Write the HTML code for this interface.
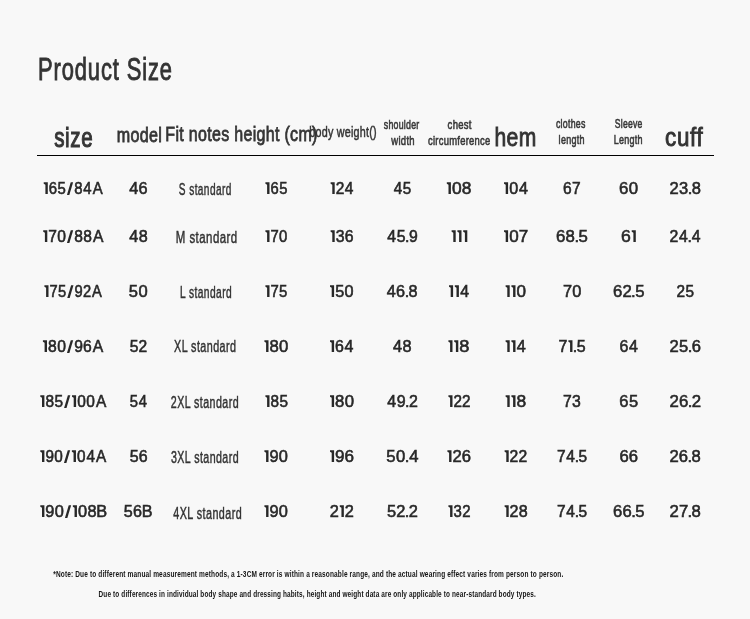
<!DOCTYPE html>
<html><head><meta charset="utf-8"><style>
html,body{margin:0;padding:0;background:#f8f8f8;width:750px;height:619px;overflow:hidden}
svg{display:block;font-family:"Liberation Sans",sans-serif;will-change:transform}
</style></head><body>
<svg width="750" height="619" viewBox="0 0 750 619">
<rect x="37" y="155" width="677" height="1" fill="#000"/>
<text transform="translate(38.05,79.80) scale(0.7035,1)" font-size="31.16" fill="#333" stroke="#333" stroke-width="0.9" letter-spacing="1.246">Product Size</text>
<text transform="translate(54.18,146.80) scale(0.7463,1)" font-size="27.55" fill="#353535" stroke="#353535" stroke-width="1.1" letter-spacing="0.826">size</text>
<text transform="translate(116.75,141.80) scale(0.8223,1)" font-size="19.59" fill="#353535" stroke="#353535" stroke-width="0.8" letter-spacing="0.392">model</text>
<text transform="translate(165.32,140.60) scale(0.7714,1)" font-size="20.72" fill="#353535" stroke="#353535" stroke-width="0.8" letter-spacing="0.414">Fit notes height (cm)</text>
<text transform="translate(309.30,136.90) scale(0.7597,1)" font-size="14.21" fill="#353535" stroke="#353535" stroke-width="0.5" letter-spacing="0.284">body weight()</text>
<text transform="translate(383.74,129.30) scale(0.6929,1)" font-size="12.70" fill="#383838" stroke="#383838" stroke-width="0.6" letter-spacing="0.381">shoulder</text>
<text transform="translate(391.30,144.50) scale(0.7479,1)" font-size="12.70" fill="#383838" stroke="#383838" stroke-width="0.6" letter-spacing="0.381">width</text>
<text transform="translate(447.62,129.30) scale(0.7490,1)" font-size="12.70" fill="#383838" stroke="#383838" stroke-width="0.6" letter-spacing="0.381">chest</text>
<text transform="translate(427.92,145.10) scale(0.7412,1)" font-size="12.70" fill="#383838" stroke="#383838" stroke-width="0.6" letter-spacing="0.381">circumference</text>
<text transform="translate(494.42,145.50) scale(0.8306,1)" font-size="25.38" fill="#333" stroke="#333" stroke-width="0.9" letter-spacing="0.508">hem</text>
<text transform="translate(555.95,127.90) scale(0.6924,1)" font-size="12.70" fill="#383838" stroke="#383838" stroke-width="0.6" letter-spacing="0.381">clothes</text>
<text transform="translate(558.62,143.60) scale(0.7085,1)" font-size="12.70" fill="#383838" stroke="#383838" stroke-width="0.6" letter-spacing="0.381">length</text>
<text transform="translate(614.71,127.90) scale(0.6800,1)" font-size="12.70" fill="#383838" stroke="#383838" stroke-width="0.6" letter-spacing="0.381">Sleeve</text>
<text transform="translate(613.68,143.60) scale(0.7090,1)" font-size="12.70" fill="#383838" stroke="#383838" stroke-width="0.6" letter-spacing="0.381">Length</text>
<text transform="translate(665.11,145.50) scale(0.8815,1)" font-size="25.38" fill="#333" stroke="#333" stroke-width="0.9" letter-spacing="0.761">cuff</text>
<path transform="translate(43.70,194.00)" fill="#282828" d="M0,-10.30 L0,-11.80 L4.1,-11.80 L4.1,0 L1.70,0 L1.70,-9.20 Z"/>
<path transform="translate(66.93,194.00)" fill="#282828" d="M0,0.9 L2.4,0.9 L6.2,-11.80 L3.80,-11.80 Z"/>
<text transform="translate(0,194.00) scale(0.8726,1)" x="55.87 65.94 84.98 95.40 106.32" font-size="17.10" fill="#282828" stroke="#282828" stroke-width="0.6">6584A</text>
<text transform="translate(0,194.00) scale(0.9525,1)" x="135.62 145.53" font-size="17.10" fill="#282828" stroke="#282828" stroke-width="0.6">46</text>
<text transform="translate(178.85,195.20) scale(0.6458,1)" font-size="15.65" fill="#333" stroke="#333" stroke-width="0.45" letter-spacing="0.626">S standard</text>
<path transform="translate(265.40,194.00)" fill="#282828" d="M0,-10.30 L0,-11.80 L4.1,-11.80 L4.1,0 L1.70,0 L1.70,-9.20 Z"/>
<text transform="translate(0,194.00) scale(0.8647,1)" x="312.79 322.88" font-size="17.10" fill="#282828" stroke="#282828" stroke-width="0.6">65</text>
<path transform="translate(330.60,194.00)" fill="#282828" d="M0,-10.30 L0,-11.80 L4.1,-11.80 L4.1,0 L1.70,0 L1.70,-9.20 Z"/>
<text transform="translate(0,194.00) scale(0.9076,1)" x="369.80 379.97" font-size="17.10" fill="#282828" stroke="#282828" stroke-width="0.6">24</text>
<text transform="translate(0,194.00) scale(0.8891,1)" x="442.83 453.03" font-size="17.10" fill="#282828" stroke="#282828" stroke-width="0.6">45</text>
<path transform="translate(446.80,194.00)" fill="#282828" d="M0,-10.30 L0,-11.80 L4.1,-11.80 L4.1,0 L1.70,0 L1.70,-9.20 Z"/>
<text transform="translate(0,194.00) scale(1.0156,1)" x="444.96 454.76" font-size="17.10" fill="#282828" stroke="#282828" stroke-width="0.6">08</text>
<path transform="translate(504.00,194.00)" fill="#282828" d="M0,-10.30 L0,-11.80 L4.1,-11.80 L4.1,0 L1.70,0 L1.70,-9.20 Z"/>
<text transform="translate(0,194.00) scale(0.9439,1)" x="539.41 549.76" font-size="17.10" fill="#282828" stroke="#282828" stroke-width="0.6">04</text>
<text transform="translate(0,194.00) scale(0.9089,1)" x="619.46 629.28" font-size="17.10" fill="#282828" stroke="#282828" stroke-width="0.6">67</text>
<text transform="translate(0,194.00) scale(0.9839,1)" x="629.11 638.96" font-size="17.10" fill="#282828" stroke="#282828" stroke-width="0.6">60</text>
<text transform="translate(0,194.00) scale(0.9661,1)" x="693.07 702.78 711.81 715.96" font-size="17.10" fill="#282828" stroke="#282828" stroke-width="0.6">23.8</text>
<path transform="translate(43.20,242.00)" fill="#282828" d="M0,-10.30 L0,-11.80 L4.1,-11.80 L4.1,0 L1.70,0 L1.70,-9.20 Z"/>
<path transform="translate(66.98,242.00)" fill="#282828" d="M0,0.9 L2.4,0.9 L6.2,-11.80 L3.80,-11.80 Z"/>
<text transform="translate(0,242.00) scale(0.9117,1)" x="52.89 62.71 81.36 91.27 101.94" font-size="17.10" fill="#282828" stroke="#282828" stroke-width="0.6">7088A</text>
<text transform="translate(0,242.00) scale(0.9476,1)" x="136.32 146.32" font-size="17.10" fill="#282828" stroke="#282828" stroke-width="0.6">48</text>
<text transform="translate(175.78,243.30) scale(0.7326,1)" font-size="15.65" fill="#333" stroke="#333" stroke-width="0.45" letter-spacing="0.626">M standard</text>
<path transform="translate(265.40,242.00)" fill="#282828" d="M0,-10.30 L0,-11.80 L4.1,-11.80 L4.1,0 L1.70,0 L1.70,-9.20 Z"/>
<text transform="translate(0,242.00) scale(0.8693,1)" x="311.12 321.03" font-size="17.10" fill="#282828" stroke="#282828" stroke-width="0.6">70</text>
<path transform="translate(330.60,242.00)" fill="#282828" d="M0,-10.30 L0,-11.80 L4.1,-11.80 L4.1,0 L1.70,0 L1.70,-9.20 Z"/>
<text transform="translate(0,242.00) scale(0.9269,1)" x="362.25 372.04" font-size="17.10" fill="#282828" stroke="#282828" stroke-width="0.6">36</text>
<text transform="translate(0,242.00) scale(0.9227,1)" x="419.74 429.87 438.98 443.22" font-size="17.10" fill="#282828" stroke="#282828" stroke-width="0.6">45.9</text>
<path transform="translate(451.60,242.00)" fill="#282828" d="M0,-10.30 L0,-11.80 L4.1,-11.80 L4.1,0 L1.70,0 L1.70,-9.20 Z"/>
<path transform="translate(457.40,242.00)" fill="#282828" d="M0,-10.30 L0,-11.80 L4.1,-11.80 L4.1,0 L1.70,0 L1.70,-9.20 Z"/>
<path transform="translate(463.20,242.00)" fill="#282828" d="M0,-10.30 L0,-11.80 L4.1,-11.80 L4.1,0 L1.70,0 L1.70,-9.20 Z"/>
<path transform="translate(504.00,242.00)" fill="#282828" d="M0,-10.30 L0,-11.80 L4.1,-11.80 L4.1,0 L1.70,0 L1.70,-9.20 Z"/>
<text transform="translate(0,242.00) scale(0.9944,1)" x="512.00 521.74" font-size="17.10" fill="#282828" stroke="#282828" stroke-width="0.6">07</text>
<text transform="translate(0,242.00) scale(0.9830,1)" x="565.58 575.34 584.34 588.55" font-size="17.10" fill="#282828" stroke="#282828" stroke-width="0.6">68.5</text>
<path transform="translate(631.70,242.00)" fill="#282828" d="M0,-10.30 L0,-11.80 L4.1,-11.80 L4.1,0 L1.70,0 L1.70,-9.20 Z"/>
<text transform="translate(0,242.00) scale(1.0312,1)" x="602.15" font-size="17.10" fill="#282828" stroke="#282828" stroke-width="0.6">6</text>
<text transform="translate(0,242.00) scale(0.9258,1)" x="723.24 733.37 742.64 747.30" font-size="17.10" fill="#282828" stroke="#282828" stroke-width="0.6">24.4</text>
<path transform="translate(44.40,297.00)" fill="#282828" d="M0,-10.30 L0,-11.80 L4.1,-11.80 L4.1,0 L1.70,0 L1.70,-9.20 Z"/>
<path transform="translate(67.28,297.00)" fill="#282828" d="M0,0.9 L2.4,0.9 L6.2,-11.80 L3.80,-11.80 Z"/>
<text transform="translate(0,297.00) scale(0.8603,1)" x="57.50 67.43 86.62 96.47 107.08" font-size="17.10" fill="#282828" stroke="#282828" stroke-width="0.6">7592A</text>
<text transform="translate(0,297.00) scale(0.9674,1)" x="133.18 143.06" font-size="17.10" fill="#282828" stroke="#282828" stroke-width="0.6">50</text>
<text transform="translate(179.98,297.90) scale(0.6545,1)" font-size="15.65" fill="#333" stroke="#333" stroke-width="0.45" letter-spacing="0.626">L standard</text>
<path transform="translate(265.40,297.00)" fill="#282828" d="M0,-10.30 L0,-11.80 L4.1,-11.80 L4.1,0 L1.70,0 L1.70,-9.20 Z"/>
<text transform="translate(0,297.00) scale(0.8740,1)" x="309.45 319.35" font-size="17.10" fill="#282828" stroke="#282828" stroke-width="0.6">75</text>
<path transform="translate(330.00,297.00)" fill="#282828" d="M0,-10.30 L0,-11.80 L4.1,-11.80 L4.1,0 L1.70,0 L1.70,-9.20 Z"/>
<text transform="translate(0,297.00) scale(0.9491,1)" x="353.14 363.05" font-size="17.10" fill="#282828" stroke="#282828" stroke-width="0.6">50</text>
<text transform="translate(0,297.00) scale(0.9485,1)" x="407.65 417.57 426.63 430.81" font-size="17.10" fill="#282828" stroke="#282828" stroke-width="0.6">46.8</text>
<path transform="translate(449.00,297.00)" fill="#282828" d="M0,-10.30 L0,-11.80 L4.1,-11.80 L4.1,0 L1.70,0 L1.70,-9.20 Z"/>
<path transform="translate(454.80,297.00)" fill="#282828" d="M0,-10.30 L0,-11.80 L4.1,-11.80 L4.1,0 L1.70,0 L1.70,-9.20 Z"/>
<text transform="translate(0,297.00) scale(0.9263,1)" x="496.89" font-size="17.10" fill="#282828" stroke="#282828" stroke-width="0.6">4</text>
<path transform="translate(505.60,297.00)" fill="#282828" d="M0,-10.30 L0,-11.80 L4.1,-11.80 L4.1,0 L1.70,0 L1.70,-9.20 Z"/>
<path transform="translate(511.40,297.00)" fill="#282828" d="M0,-10.30 L0,-11.80 L4.1,-11.80 L4.1,0 L1.70,0 L1.70,-9.20 Z"/>
<text transform="translate(0,297.00) scale(0.9989,1)" x="517.06" font-size="17.10" fill="#282828" stroke="#282828" stroke-width="0.6">0</text>
<text transform="translate(0,297.00) scale(0.9569,1)" x="588.37 598.09" font-size="17.10" fill="#282828" stroke="#282828" stroke-width="0.6">70</text>
<text transform="translate(0,297.00) scale(0.9772,1)" x="627.27 636.96 645.80 650.02" font-size="17.10" fill="#282828" stroke="#282828" stroke-width="0.6">62.5</text>
<text transform="translate(0,297.00) scale(0.8991,1)" x="752.54 762.39" font-size="17.10" fill="#282828" stroke="#282828" stroke-width="0.6">25</text>
<path transform="translate(42.90,352.00)" fill="#282828" d="M0,-10.30 L0,-11.80 L4.1,-11.80 L4.1,0 L1.70,0 L1.70,-9.20 Z"/>
<path transform="translate(66.99,352.00)" fill="#282828" d="M0,0.9 L2.4,0.9 L6.2,-11.80 L3.80,-11.80 Z"/>
<text transform="translate(0,352.00) scale(0.9168,1)" x="52.35 62.33 80.93 90.65 101.31" font-size="17.10" fill="#282828" stroke="#282828" stroke-width="0.6">8096A</text>
<text transform="translate(0,352.00) scale(0.9117,1)" x="142.24 152.05" font-size="17.10" fill="#282828" stroke="#282828" stroke-width="0.6">52</text>
<text transform="translate(174.03,352.20) scale(0.6891,1)" font-size="15.65" fill="#333" stroke="#333" stroke-width="0.45" letter-spacing="0.626">XL standard</text>
<path transform="translate(264.40,352.00)" fill="#282828" d="M0,-10.30 L0,-11.80 L4.1,-11.80 L4.1,0 L1.70,0 L1.70,-9.20 Z"/>
<text transform="translate(0,352.00) scale(0.9787,1)" x="275.32 285.18" font-size="17.10" fill="#282828" stroke="#282828" stroke-width="0.6">80</text>
<path transform="translate(330.00,352.00)" fill="#282828" d="M0,-10.30 L0,-11.80 L4.1,-11.80 L4.1,0 L1.70,0 L1.70,-9.20 Z"/>
<text transform="translate(0,352.00) scale(0.9344,1)" x="358.52 368.81" font-size="17.10" fill="#282828" stroke="#282828" stroke-width="0.6">64</text>
<text transform="translate(0,352.00) scale(0.9536,1)" x="412.21 422.20" font-size="17.10" fill="#282828" stroke="#282828" stroke-width="0.6">48</text>
<path transform="translate(448.40,352.00)" fill="#282828" d="M0,-10.30 L0,-11.80 L4.1,-11.80 L4.1,0 L1.70,0 L1.70,-9.20 Z"/>
<path transform="translate(454.20,352.00)" fill="#282828" d="M0,-10.30 L0,-11.80 L4.1,-11.80 L4.1,0 L1.70,0 L1.70,-9.20 Z"/>
<text transform="translate(0,352.00) scale(1.0700,1)" x="429.15" font-size="17.10" fill="#282828" stroke="#282828" stroke-width="0.6">8</text>
<path transform="translate(505.60,352.00)" fill="#282828" d="M0,-10.30 L0,-11.80 L4.1,-11.80 L4.1,0 L1.70,0 L1.70,-9.20 Z"/>
<path transform="translate(511.40,352.00)" fill="#282828" d="M0,-10.30 L0,-11.80 L4.1,-11.80 L4.1,0 L1.70,0 L1.70,-9.20 Z"/>
<text transform="translate(0,352.00) scale(0.9495,1)" x="544.37" font-size="17.10" fill="#282828" stroke="#282828" stroke-width="0.6">4</text>
<path transform="translate(568.38,352.00)" fill="#282828" d="M0,-10.30 L0,-11.80 L4.1,-11.80 L4.1,0 L1.70,0 L1.70,-9.20 Z"/>
<text transform="translate(0,352.00) scale(0.9356,1)" x="597.05 612.17 616.46" font-size="17.10" fill="#282828" stroke="#282828" stroke-width="0.6">7.5</text>
<text transform="translate(0,352.00) scale(0.9344,1)" x="662.90 673.18" font-size="17.10" fill="#282828" stroke="#282828" stroke-width="0.6">64</text>
<text transform="translate(0,352.00) scale(0.9693,1)" x="690.75 700.45 709.47 713.54" font-size="17.10" fill="#282828" stroke="#282828" stroke-width="0.6">25.6</text>
<path transform="translate(40.30,407.00)" fill="#282828" d="M0,-10.30 L0,-11.80 L4.1,-11.80 L4.1,0 L1.70,0 L1.70,-9.20 Z"/>
<path transform="translate(64.10,407.00)" fill="#282828" d="M0,0.9 L2.4,0.9 L6.2,-11.80 L3.80,-11.80 Z"/>
<path transform="translate(72.00,407.00)" fill="#282828" d="M0,-10.30 L0,-11.80 L4.1,-11.80 L4.1,0 L1.70,0 L1.70,-9.20 Z"/>
<text transform="translate(0,407.00) scale(0.9033,1)" x="50.27 60.27 85.44 95.53 106.31" font-size="17.10" fill="#282828" stroke="#282828" stroke-width="0.6">8500A</text>
<text transform="translate(0,407.00) scale(0.8652,1)" x="149.92 160.35" font-size="17.10" fill="#282828" stroke="#282828" stroke-width="0.6">54</text>
<text transform="translate(170.87,407.50) scale(0.6824,1)" font-size="15.65" fill="#333" stroke="#333" stroke-width="0.45" letter-spacing="0.626">2XL standard</text>
<path transform="translate(265.40,407.00)" fill="#282828" d="M0,-10.30 L0,-11.80 L4.1,-11.80 L4.1,0 L1.70,0 L1.70,-9.20 Z"/>
<text transform="translate(0,407.00) scale(0.8972,1)" x="301.49 311.51" font-size="17.10" fill="#282828" stroke="#282828" stroke-width="0.6">85</text>
<path transform="translate(330.00,407.00)" fill="#282828" d="M0,-10.30 L0,-11.80 L4.1,-11.80 L4.1,0 L1.70,0 L1.70,-9.20 Z"/>
<text transform="translate(0,407.00) scale(0.9787,1)" x="342.35 352.21" font-size="17.10" fill="#282828" stroke="#282828" stroke-width="0.6">80</text>
<text transform="translate(0,407.00) scale(0.9348,1)" x="414.28 424.31 433.31 437.44" font-size="17.10" fill="#282828" stroke="#282828" stroke-width="0.6">49.2</text>
<path transform="translate(448.40,407.00)" fill="#282828" d="M0,-10.30 L0,-11.80 L4.1,-11.80 L4.1,0 L1.70,0 L1.70,-9.20 Z"/>
<text transform="translate(0,407.00) scale(0.8932,1)" x="507.66 517.35" font-size="17.10" fill="#282828" stroke="#282828" stroke-width="0.6">22</text>
<path transform="translate(505.60,407.00)" fill="#282828" d="M0,-10.30 L0,-11.80 L4.1,-11.80 L4.1,0 L1.70,0 L1.70,-9.20 Z"/>
<path transform="translate(511.40,407.00)" fill="#282828" d="M0,-10.30 L0,-11.80 L4.1,-11.80 L4.1,0 L1.70,0 L1.70,-9.20 Z"/>
<text transform="translate(0,407.00) scale(1.0202,1)" x="506.19" font-size="17.10" fill="#282828" stroke="#282828" stroke-width="0.6">8</text>
<text transform="translate(0,407.00) scale(0.9243,1)" x="609.14 618.93" font-size="17.10" fill="#282828" stroke="#282828" stroke-width="0.6">73</text>
<text transform="translate(0,407.00) scale(0.9642,1)" x="642.37 652.25" font-size="17.10" fill="#282828" stroke="#282828" stroke-width="0.6">65</text>
<text transform="translate(0,407.00) scale(0.9825,1)" x="681.46 690.98 699.97 704.01" font-size="17.10" fill="#282828" stroke="#282828" stroke-width="0.6">26.2</text>
<path transform="translate(40.30,462.00)" fill="#282828" d="M0,-10.30 L0,-11.80 L4.1,-11.80 L4.1,0 L1.70,0 L1.70,-9.20 Z"/>
<path transform="translate(63.96,462.00)" fill="#282828" d="M0,0.9 L2.4,0.9 L6.2,-11.80 L3.80,-11.80 Z"/>
<path transform="translate(71.86,462.00)" fill="#282828" d="M0,-10.30 L0,-11.80 L4.1,-11.80 L4.1,0 L1.70,0 L1.70,-9.20 Z"/>
<text transform="translate(0,462.00) scale(0.8946,1)" x="50.76 60.70 86.12 96.58 107.45" font-size="17.10" fill="#282828" stroke="#282828" stroke-width="0.6">9004A</text>
<text transform="translate(0,462.00) scale(0.9331,1)" x="138.96 148.73" font-size="17.10" fill="#282828" stroke="#282828" stroke-width="0.6">56</text>
<text transform="translate(170.97,463.20) scale(0.6813,1)" font-size="15.65" fill="#333" stroke="#333" stroke-width="0.45" letter-spacing="0.626">3XL standard</text>
<path transform="translate(264.40,462.00)" fill="#282828" d="M0,-10.30 L0,-11.80 L4.1,-11.80 L4.1,0 L1.70,0 L1.70,-9.20 Z"/>
<text transform="translate(0,462.00) scale(0.9591,1)" x="280.95 290.76" font-size="17.10" fill="#282828" stroke="#282828" stroke-width="0.6">90</text>
<path transform="translate(330.00,462.00)" fill="#282828" d="M0,-10.30 L0,-11.80 L4.1,-11.80 L4.1,0 L1.70,0 L1.70,-9.20 Z"/>
<text transform="translate(0,462.00) scale(0.9997,1)" x="335.12 344.69" font-size="17.10" fill="#282828" stroke="#282828" stroke-width="0.6">96</text>
<text transform="translate(0,462.00) scale(0.9739,1)" x="396.67 406.54 415.63 420.20" font-size="17.10" fill="#282828" stroke="#282828" stroke-width="0.6">50.4</text>
<path transform="translate(447.40,462.00)" fill="#282828" d="M0,-10.30 L0,-11.80 L4.1,-11.80 L4.1,0 L1.70,0 L1.70,-9.20 Z"/>
<text transform="translate(0,462.00) scale(0.9725,1)" x="465.18 474.71" font-size="17.10" fill="#282828" stroke="#282828" stroke-width="0.6">26</text>
<path transform="translate(504.60,462.00)" fill="#282828" d="M0,-10.30 L0,-11.80 L4.1,-11.80 L4.1,0 L1.70,0 L1.70,-9.20 Z"/>
<text transform="translate(0,462.00) scale(0.9189,1)" x="554.60 564.23" font-size="17.10" fill="#282828" stroke="#282828" stroke-width="0.6">22</text>
<text transform="translate(0,462.00) scale(0.9058,1)" x="614.97 625.14 634.45 638.81" font-size="17.10" fill="#282828" stroke="#282828" stroke-width="0.6">74.5</text>
<text transform="translate(0,462.00) scale(0.9746,1)" x="635.52 645.22" font-size="17.10" fill="#282828" stroke="#282828" stroke-width="0.6">66</text>
<text transform="translate(0,462.00) scale(0.9726,1)" x="688.43 697.96 706.97 711.11" font-size="17.10" fill="#282828" stroke="#282828" stroke-width="0.6">26.8</text>
<path transform="translate(40.30,517.00)" fill="#282828" d="M0,-10.30 L0,-11.80 L4.1,-11.80 L4.1,0 L1.70,0 L1.70,-9.20 Z"/>
<path transform="translate(64.94,517.00)" fill="#282828" d="M0,0.9 L2.4,0.9 L6.2,-11.80 L3.80,-11.80 Z"/>
<path transform="translate(72.84,517.00)" fill="#282828" d="M0,-10.30 L0,-11.80 L4.1,-11.80 L4.1,0 L1.70,0 L1.70,-9.20 Z"/>
<text transform="translate(0,517.00) scale(0.9553,1)" x="47.49 57.30 81.63 91.53 100.75" font-size="17.10" fill="#282828" stroke="#282828" stroke-width="0.6">9008B</text>
<text transform="translate(0,517.00) scale(0.9435,1)" x="131.27 141.02 150.26" font-size="17.10" fill="#282828" stroke="#282828" stroke-width="0.6">56B</text>
<text transform="translate(173.28,518.70) scale(0.6883,1)" font-size="15.65" fill="#333" stroke="#333" stroke-width="0.45" letter-spacing="0.626">4XL standard</text>
<path transform="translate(264.40,517.00)" fill="#282828" d="M0,-10.30 L0,-11.80 L4.1,-11.80 L4.1,0 L1.70,0 L1.70,-9.20 Z"/>
<text transform="translate(0,517.00) scale(0.9591,1)" x="280.95 290.76" font-size="17.10" fill="#282828" stroke="#282828" stroke-width="0.6">90</text>
<path transform="translate(339.75,517.00)" fill="#282828" d="M0,-10.30 L0,-11.80 L4.1,-11.80 L4.1,0 L1.70,0 L1.70,-9.20 Z"/>
<text transform="translate(0,517.00) scale(0.9574,1)" x="344.44 360.05" font-size="17.10" fill="#282828" stroke="#282828" stroke-width="0.6">22</text>
<text transform="translate(0,517.00) scale(0.9601,1)" x="403.03 412.75 421.62 425.70" font-size="17.10" fill="#282828" stroke="#282828" stroke-width="0.6">52.2</text>
<path transform="translate(448.40,517.00)" fill="#282828" d="M0,-10.30 L0,-11.80 L4.1,-11.80 L4.1,0 L1.70,0 L1.70,-9.20 Z"/>
<text transform="translate(0,517.00) scale(0.8740,1)" x="519.01 528.91" font-size="17.10" fill="#282828" stroke="#282828" stroke-width="0.6">32</text>
<path transform="translate(504.60,517.00)" fill="#282828" d="M0,-10.30 L0,-11.80 L4.1,-11.80 L4.1,0 L1.70,0 L1.70,-9.20 Z"/>
<text transform="translate(0,517.00) scale(0.9419,1)" x="541.02 550.69" font-size="17.10" fill="#282828" stroke="#282828" stroke-width="0.6">28</text>
<text transform="translate(0,517.00) scale(0.9058,1)" x="614.97 625.14 634.45 638.81" font-size="17.10" fill="#282828" stroke="#282828" stroke-width="0.6">74.5</text>
<text transform="translate(0,517.00) scale(0.9707,1)" x="631.49 641.19 650.21 654.44" font-size="17.10" fill="#282828" stroke="#282828" stroke-width="0.6">66.5</text>
<text transform="translate(0,517.00) scale(0.9792,1)" x="683.78 693.30 702.13 706.27" font-size="17.10" fill="#282828" stroke="#282828" stroke-width="0.6">27.8</text>
<text transform="translate(53.27,577.00) scale(0.6837,1)" font-size="9.57" fill="#141414" font-weight="bold" letter-spacing="0.191">*Note: Due to different manual measurement methods, a 1-3CM error is within a reasonable range, and the actual wearing effect varies from person to person.</text>
<text transform="translate(98.58,596.70) scale(0.7191,1)" font-size="8.99" fill="#141414" font-weight="bold" letter-spacing="0.180">Due to differences in individual body shape and dressing habits, height and weight data are only applicable to near-standard body types.</text>
</svg></body></html>
